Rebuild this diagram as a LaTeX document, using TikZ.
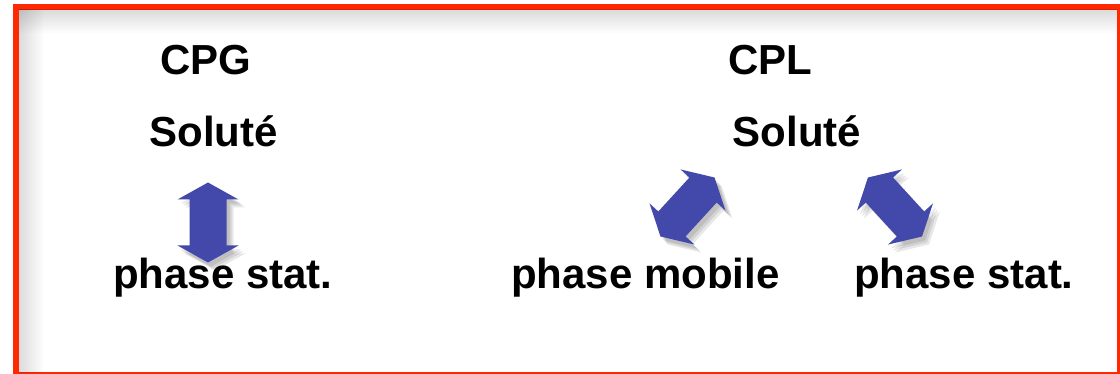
\documentclass[tikz,border=0pt]{standalone}
\usepackage{fontspec}
\setmainfont{Liberation Sans}
\usetikzlibrary{positioning}

\definecolor{framered}{RGB}{255,40,0}
\definecolor{arrowblue}{RGB}{67,73,170}

\begin{document}
\begin{tikzpicture}[x=1pt,y=-1pt]
\useasboundingbox (0,0) rectangle (1120,374);

% frame with inner shadow
\fill [framered] (13,4) rectangle (1120,374);
\fill [white] (19,10) rectangle (1117,372);
\begin{scope}[blend mode=multiply]
\shade [left color=black!14, right color=white] (19,10) rectangle (44,372);
\shade [top color=black!14, bottom color=white] (19,10) rectangle (1117,34);
\end{scope}

\begin{scope}[every node/.style={font=\fontsize{42}{50}\selectfont\bfseries, inner sep=0pt, anchor=base}]

\node (cpg)     at (206,75)  {CPG};
\node (solg)    at (213.5,147) {Soluté};
\node (statg)   at (223,289) {phase stat.};

\node (cpl)     at (770,75)  {CPL};
\node (soll)    at (797,147) {Soluté};
\node (mobl)    at (645.5,289) {phase mobile};
\node (statl)   at (964,289) {phase stat.};

\end{scope}

% double arrows: centre x / centre y / angle
\foreach \cx/\cy/\ang in {208/222.5/90, 687.5/207/47.5, 895/207/-47.5} {
  \foreach \s in {3,5,7}
    \fill [black,opacity=0.09,shift={(\cx+\s,\cy+\s+1)},rotate=\ang]
      (-40,0) -- (-23,30.5) -- (-23,18.5) -- (23,18.5) -- (23,30.5) -- (40,0)
      -- (23,-30.5) -- (23,-18.5) -- (-23,-18.5) -- (-23,-30.5) -- cycle;
  \fill [arrowblue,shift={(\cx,\cy)},rotate=\ang]
      (-40,0) -- (-23,30.5) -- (-23,18.5) -- (23,18.5) -- (23,30.5) -- (40,0)
      -- (23,-30.5) -- (23,-18.5) -- (-23,-18.5) -- (-23,-30.5) -- cycle;
}

\end{tikzpicture}
\end{document}
